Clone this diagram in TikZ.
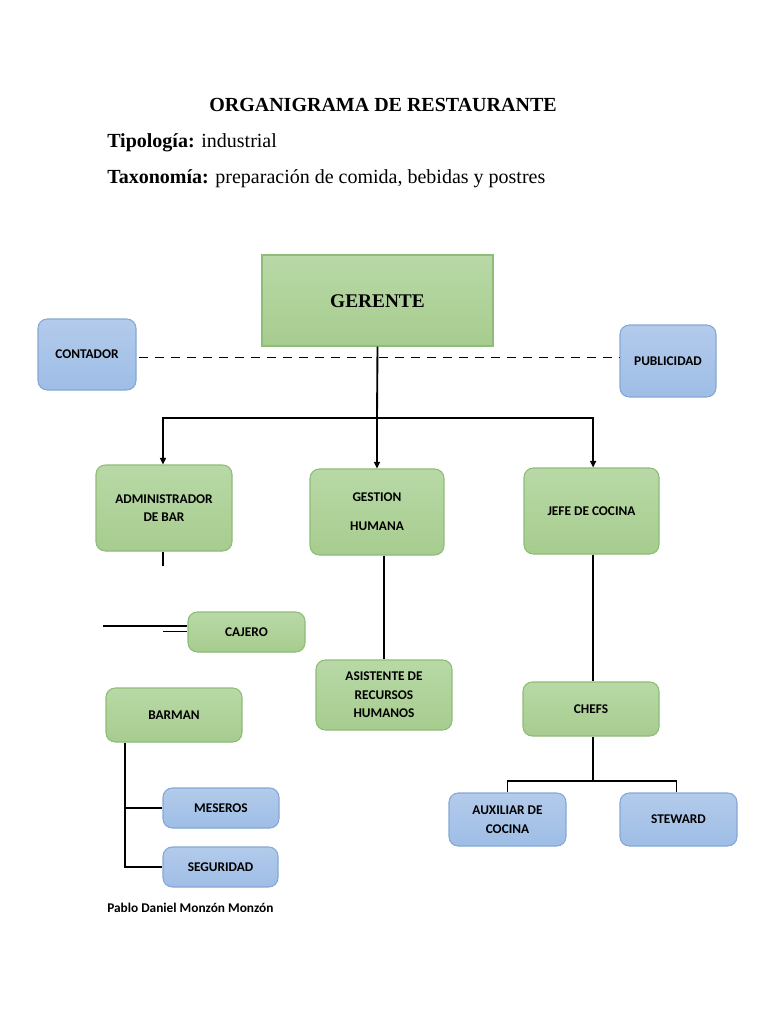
\documentclass[tikz,border=0pt]{standalone}
\usepackage{fontspec}
\setmainfont{Liberation Serif}
\newfontfamily\calib{Carlito}
\usetikzlibrary{arrows.meta}
\definecolor{gtop}{HTML}{B8D9A6}
\definecolor{gbot}{HTML}{A7CC8F}
\definecolor{gline}{HTML}{8FBC78}
\definecolor{btop}{HTML}{B3CBEB}
\definecolor{bbot}{HTML}{9EBDE6}
\definecolor{bline}{HTML}{86A8D6}
\tikzset{
  gbox/.style={draw=gline, line width=0.8pt, top color=gtop, bottom color=gbot, rounded corners=7pt, inner sep=0pt, align=center, font=\calib\bfseries\fontsize{10}{14}\selectfont},
  bbox/.style={draw=bline, line width=0.8pt, top color=btop, bottom color=bbot, rounded corners=7pt, inner sep=0pt, align=center, font=\calib\bfseries\fontsize{10}{14}\selectfont},
  conn/.style={line width=1.4pt, black},
  arr/.style={conn, -{Triangle[length=5pt,width=4.5pt]}},
  dsh/.style={line width=0.7pt, dash pattern=on 7pt off 5pt},
  ttl/.style={anchor=base west, inner sep=0pt, font=\fontsize{15}{18}\selectfont}
}
\begin{document}
\begin{tikzpicture}[x=0.75pt, y=-0.75pt]
\fill[white] (0,0) rectangle (768,1024);
\useasboundingbox (0,0) rectangle (768,1024);

% titles
\node[anchor=base, inner sep=0pt, font=\bfseries\fontsize{15}{18}\selectfont] (title) at (383,111) {ORGANIGRAMA DE RESTAURANTE};
\node[ttl] (tipo) at (107,147) {\textbf{Tipología:} industrial};
\node[ttl] (taxo) at (107,183) {\textbf{Taxonomía:} preparación de comida, bebidas y postres};

% boxes
\node[draw=gline, line width=0.8pt, top color=gtop, bottom color=gbot, minimum width=173.25pt, minimum height=68.25pt, inner sep=0pt] (gerente) at (377.5,300.5) {};
\node[anchor=base, inner sep=0pt, font=\bfseries\fontsize{14.5}{17}\selectfont] (gtext) at (377.5,307) {GERENTE};
\node[bbox, minimum width=73.5pt, minimum height=53.25pt] (contador) at (87,354.5) {CONTADOR};
\node[bbox, minimum width=72pt, minimum height=54pt] (publicidad) at (668,361) {PUBLICIDAD};

\node[gbox, minimum width=102pt, minimum height=64.5pt] (admin) at (164,508) {ADMINISTRADOR\\DE BAR};
\node[gbox, minimum width=100.5pt, minimum height=64.5pt, font=\calib\bfseries\fontsize{10}{21.5}\selectfont] (gestion) at (377,512) {GESTION\\HUMANA};
\node[gbox, minimum width=101.25pt, minimum height=64.5pt] (jefe) at (591.5,511) {JEFE DE COCINA};

\node[gbox, minimum width=87.75pt, minimum height=30pt] (cajero) at (246.5,632) {CAJERO};
\node[gbox, minimum width=102pt, minimum height=40.5pt] (barman) at (174,715) {BARMAN};
\node[bbox, minimum width=87pt, minimum height=30pt] (meseros) at (221,808) {MESEROS};
\node[bbox, minimum width=86.25pt, minimum height=30pt] (seguridad) at (220.5,867) {SEGURIDAD};

\node[gbox, minimum width=102pt, minimum height=52.5pt] (asistente) at (384,695) {ASISTENTE DE\\RECURSOS\\HUMANOS};
\node[gbox, minimum width=102pt, minimum height=40.5pt] (chefs) at (591,709) {CHEFS};
\node[bbox, minimum width=87.75pt, minimum height=39.75pt] (auxiliar) at (507.5,819.5) {AUXILIAR DE\\COCINA};
\node[bbox, minimum width=87.75pt, minimum height=39.75pt] (steward) at (678.5,819.5) {STEWARD};

\node[anchor=base west, inner sep=0pt, font=\calib\bfseries\fontsize{10}{12}\selectfont] (autor) at (107,912) {Pablo Daniel Monzón Monzón};

% coordinates
\coordinate (hub) at (377,418);
\coordinate (dd) at (0,357);
\coordinate (c1) at (103,626);
\coordinate (c2) at (163,631);
\coordinate (bm) at (125,0);
\coordinate (ch) at (593,781);

% connectors
\draw[dsh] ([xshift=1.5pt]contador.east |- dd) -- (publicidad.west |- dd);
\draw[conn] (gerente.south) -- (hub);
\draw[arr] (hub) -| ([xshift=-0.75pt]admin.north);
\draw[arr] (hub) -- (gestion.north);
\draw[arr] (hub) -| ([xshift=1.2pt]jefe.north);
\draw[conn] ([xshift=-0.75pt]admin.south) -- ++(0,14);
\draw[conn] (c1) -- (cajero.west |- c1);
\draw[line width=0.6pt] (c2) -- (cajero.west |- c2);
\draw[conn] (bm |- barman.south) |- (meseros.west);
\draw[conn] (bm |- barman.south) |- (seguridad.west);
\draw[conn] (asistente.north |- gestion.south) -- (asistente.north);
\draw[conn] (ch |- jefe.south) -- (ch |- chefs.north);
\draw[conn] (ch |- chefs.south) -- (ch);
\draw[conn] (auxiliar.north) |- (ch) -| ([xshift=-1.5pt]steward.north);
\end{tikzpicture}
\end{document}
